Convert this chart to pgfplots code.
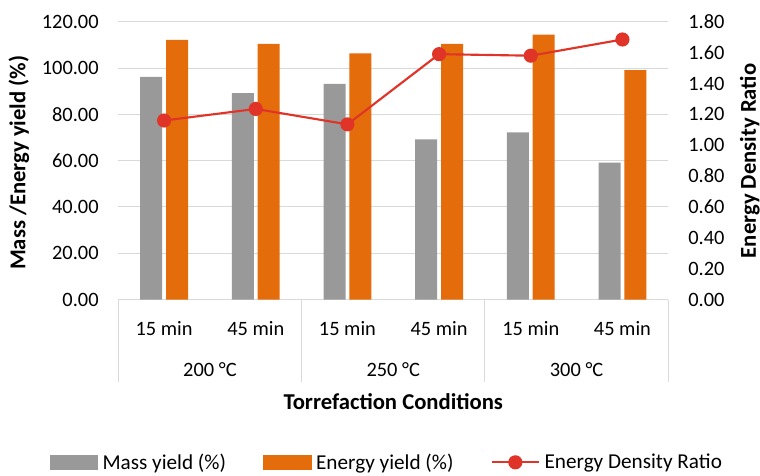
\documentclass[border=0pt]{standalone}
\usepackage{pgfplots}
\pgfplotsset{compat=1.18}
\usepackage{fontspec}
\setmainfont{Carlito}
\definecolor{massgray}{RGB}{153,153,153}
\definecolor{enorange}{RGB}{228,108,10}
\definecolor{edrred}{RGB}{224,52,40}
\definecolor{gridgray}{RGB}{217,217,217}
\newcommand{\tfont}{\fontsize{15.3}{18}\selectfont}
\newcommand{\legfont}{\fontsize{15.9}{18}\selectfont}
\newcommand{\lfont}{\fontsize{17}{20}\selectfont\bfseries}
\begin{document}
\begin{tikzpicture}
\pgfplotsset{
  common/.style={
    scale only axis, width=412.5pt, height=208.35pt,
    xmin=-0.5, xmax=5.5,
    major tick length=0pt,
    tick label style={font=\tfont},
    /pgf/number format/assume math mode=true,
    /pgf/number format/.cd, fixed, fixed zerofill, precision=2, /pgfplots/.cd,
    clip=false,
  }
}
\begin{axis}[common,
  at={(0,0)}, anchor=south west,
  ymin=0, ymax=120, ytick={0,20,...,120},
  axis x line=bottom, axis y line=left,
  x axis line style={draw=gridgray, line width=0.75pt, -},
  y axis line style={draw=none},
  ymajorgrids, grid style={gridgray, line width=0.75pt},
  xtick={0,...,5}, xticklabels={15 min,45 min,15 min,45 min,15 min,45 min},
  xticklabel style={anchor=center, inner sep=0pt, yshift=-21.6pt},
  yticklabel style={anchor=east, inner sep=0pt, xshift=-14.5pt},
  ylabel={Mass /Energy yield (\%)},
  ylabel style={font=\lfont, at={(axis description cs:-0.1805,0.492)}, anchor=center, rotate=0},
  xlabel={Torrefaction Conditions},
  xlabel style={font=\lfont, at={(axis description cs:0.5,-0.369)}, anchor=center},
]
\addplot[ybar, bar width=16.5pt, bar shift=-9.7pt, fill=massgray, draw=none]
  coordinates {(0,96.2) (1,89.2) (2,93.2) (3,69.2) (4,72.2) (5,59.1)};
\addplot[ybar, bar width=16.5pt, bar shift=9.7pt, fill=enorange, draw=none]
  coordinates {(0,112.2) (1,110.4) (2,106.3) (3,110.4) (4,114.4) (5,99.1)};
\foreach \xs in {-0.5,1.5,3.5,5.5}{
  \edef\tmp{\noexpand\draw[gridgray, line width=0.75pt] (axis cs:\xs,0) -- ([yshift=-62pt]axis cs:\xs,0);}\tmp
}
\node[font=\tfont, anchor=center] at ([yshift=-52.3pt]axis cs:0.5,0) {200 °C};
\node[font=\tfont, anchor=center] at ([yshift=-52.3pt]axis cs:2.5,0) {250 °C};
\node[font=\tfont, anchor=center] at ([yshift=-52.3pt]axis cs:4.5,0) {300 °C};
\end{axis}
\begin{axis}[common,
  at={(0,0)}, anchor=south west,
  ymin=0, ymax=1.8, ytick={0,0.2,...,1.8},
  axis x line=none, axis y line=right,
  y axis line style={draw=none},
  yticklabel style={anchor=west, inner sep=0pt, xshift=14.8pt},
  ylabel={Energy Density Ratio},
  ylabel style={font=\lfont, at={(axis description cs:1.1485,0.499)}, anchor=center},
  legend image code/.code={\draw[mark repeat=2, mark phase=2, #1] plot coordinates {(0pt,0pt) (17.6pt,0pt) (35.25pt,0pt)};},
  legend style={at={(axis description cs:0.4865,-0.586)}, anchor=center, draw=none, fill=none,
    font=\legfont, legend columns=3,
    nodes={inner sep=0pt},
    /tikz/every odd column/.append style={column sep=3.5pt},
    /tikz/every even column/.append style={column sep=28pt}},
]
\addlegendimage{legend image code/.code={\fill[massgray] (0pt,-5pt) rectangle (35.7pt,5pt);}}
\addlegendentry{Mass yield (\%)}
\addlegendimage{legend image code/.code={\fill[enorange] (0pt,-5pt) rectangle (35.7pt,5pt);}}
\addlegendentry{Energy yield (\%)}
\addplot[edrred, line width=1.6pt, mark=*, mark size=4.5pt, mark options={fill=edrred, draw=edrred}]
  coordinates {(0,1.16) (1,1.235) (2,1.135) (3,1.59) (4,1.58) (5,1.685)};
\addlegendentry{Energy Density Ratio}
\end{axis}
\pgfresetboundingbox
\path[use as bounding box] (-88.7pt,-131.6pt) rectangle (481.3pt,224.65pt);
\end{tikzpicture}
\end{document}
